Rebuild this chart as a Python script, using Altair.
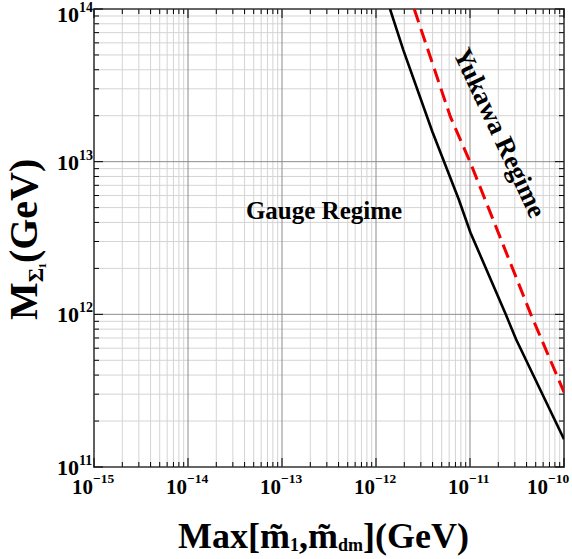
import altair as alt
import pandas as pd

W, H = 470, 458
FONT = "Liberation Serif"

# ---- data ----
x_black = [1.41e-12, 1.95e-12, 3.98e-12, 7.6e-12, 1.01e-11, 2.4e-11, 3.09e-11, 1.0e-10]
y_black = [1.0e14, 5.4e13, 1.57e13, 5.65e12, 3.44e12, 1.0e12, 6.87e11, 1.52e11]

x_red = [2.55e-12, 6.18e-12, 1.01e-11, 4.44e-11, 1.0e-10]
y_red = [1.0e14, 1.97e13, 9.84e12, 1.0e12, 3.09e11]

x_ticks = [1e-15, 1e-14, 1e-13, 1e-12, 1e-11, 1e-10]
x_exps = ["\u221215", "\u221214", "\u221213", "\u221212", "\u221211", "\u221210"]
y_ticks = [1e11, 1e12, 1e13, 1e14]
y_exps = ["11", "12", "13", "14"]

annot_text = ["Gauge Regime", "Yukawa Regime"]
annot_x = [2.8e-13, 2.04e-11]
annot_y = [4.75e12, 1.54e13]

# minor grid / tick positions (2..9 x each decade)
x_minor = [m * d for d in x_ticks[:-1] for m in range(2, 10)]
y_minor = [m * d for d in y_ticks[:-1] for m in range(2, 10)]

xs = alt.Scale(type="log", domain=[1e-15, 1e-10], nice=False)
ys = alt.Scale(type="log", domain=[1e11, 1e14], nice=False)

def X(f="v"):
    return alt.X(f"{f}:Q", scale=xs, axis=None)

def Y(f="v"):
    return alt.Y(f"{f}:Q", scale=ys, axis=None)

dxm = pd.DataFrame({"v": x_minor})
dym = pd.DataFrame({"v": y_minor})
dxM = pd.DataFrame({"v": x_ticks, "e": x_exps})
dyM = pd.DataFrame({"v": y_ticks, "e": y_exps})

layers = []
# grids
layers.append(alt.Chart(dxm).mark_rule(color="#d4d4d4", strokeWidth=1).encode(x=X()))
layers.append(alt.Chart(dym).mark_rule(color="#d4d4d4", strokeWidth=1).encode(y=Y()))
layers.append(alt.Chart(dxM).mark_rule(color="#8c8c8c", strokeWidth=1).encode(x=X()))
layers.append(alt.Chart(dyM).mark_rule(color="#8c8c8c", strokeWidth=1).encode(y=Y()))

# inward ticks
for df, ln in ((dxm, 5), (dxM, 9)):
    layers.append(alt.Chart(df).mark_rule(color="black", strokeWidth=1).encode(
        x=X(), y=alt.value(H), y2=alt.value(H - ln)))
    layers.append(alt.Chart(df).mark_rule(color="black", strokeWidth=1).encode(
        x=X(), y=alt.value(0), y2=alt.value(ln)))
for df, ln in ((dym, 5), (dyM, 9)):
    layers.append(alt.Chart(df).mark_rule(color="black", strokeWidth=1).encode(
        y=Y(), x=alt.value(0), x2=alt.value(ln)))
    layers.append(alt.Chart(df).mark_rule(color="black", strokeWidth=1).encode(
        y=Y(), x=alt.value(W), x2=alt.value(W - ln)))

# curves
dblack = pd.DataFrame({"x": x_black, "y": y_black})
dred = pd.DataFrame({"x": x_red, "y": y_red})
layers.append(alt.Chart(dblack).mark_line(color="black", strokeWidth=2.6, clip=True).encode(
    x=X("x"), y=Y("y")))
layers.append(alt.Chart(dred).mark_line(color="#f00000", strokeWidth=3, strokeDash=[14, 7], clip=True).encode(
    x=X("x"), y=Y("y")))

# annotations
dann = pd.DataFrame({"x": annot_x, "y": annot_y, "t": annot_text})
layers.append(alt.Chart(dann.iloc[[0]]).mark_text(
    font=FONT, fontWeight="bold", fontSize=25, align="center", baseline="middle", color="black"
).encode(x=X("x"), y=Y("y"), text="t:N"))
layers.append(alt.Chart(dann.iloc[[1]]).mark_text(
    font=FONT, fontWeight="bold", fontSize=26.5, align="center", baseline="middle", angle=65, color="black"
).encode(x=X("x"), y=Y("y"), text="t:N"))

# tick labels (10 + superscript exponent); the last x label and the top y label
# are pulled inward, as in the reference
def xlab(df, shift):
    return [
        alt.Chart(df).mark_text(font=FONT, fontWeight="bold", fontSize=21, align="right",
                                baseline="alphabetic", dx=-1 + shift
                                ).encode(x=X(), y=alt.value(H + 27), text=alt.value("10")),
        alt.Chart(df).mark_text(font=FONT, fontWeight="bold", fontSize=13.5, align="left",
                                baseline="alphabetic", dx=-1 + shift
                                ).encode(x=X(), y=alt.value(H + 16), text="e:N"),
    ]

def ylab(df, shift):
    return [
        alt.Chart(df).mark_text(font=FONT, fontWeight="bold", fontSize=22, align="right",
                                baseline="alphabetic", dy=8 + shift
                                ).encode(y=Y(), x=alt.value(-15), text=alt.value("10")),
        alt.Chart(df).mark_text(font=FONT, fontWeight="bold", fontSize=14, align="left",
                                baseline="alphabetic", dy=-2 + shift
                                ).encode(y=Y(), x=alt.value(-15), text="e:N"),
    ]

layers += xlab(dxM.iloc[:-1], 0) + xlab(dxM.iloc[-1:], -15)
layers += ylab(dyM.iloc[:-1], 0) + ylab(dyM.iloc[-1:], 5)

# axis titles built from pieces (main text + subscripts)
one = pd.DataFrame({"a": [0]})

def piece(txt, x, y, size, angle=0):
    kw = dict(font=FONT, fontWeight="bold", fontSize=size, align="left",
              baseline="alphabetic", color="black")
    if angle:
        kw["angle"] = angle
    return alt.Chart(one).mark_text(**kw).encode(
        x=alt.value(x), y=alt.value(y), text=alt.value(txt))

# x title: Max[m~_1, m~_dm](GeV)
BIG, SUB = 36, 18
xt = [("Max[m\u0303", BIG, 0, 3.110), ("1", SUB, 3, 0.5), (",m\u0303", BIG, 0, 1.083),
      ("dm", SUB, 3, 1.389), ("](GeV)", BIG, 0, 2.943)]
cx, base = 84, 539
for t, s, sh, em in xt:
    layers.append(piece(t, cx, base + sh, s))
    cx += em * s

# y title: M_{Sigma_1}(GeV), rotated
YB = 40
yt = [("M", YB, 0, 0.944), ("\u03a3", 22, 6, 0.62), ("1", 11, 9, 0.5), ("(GeV)", YB, 0, 2.61)]
cy, bx = 311, -57
for t, s, sh, em in yt:
    layers.append(piece(t, bx + sh, cy, s, angle=270))
    cy -= em * s

chart = alt.layer(*layers).properties(
    width=W, height=H,
    autosize=alt.AutoSizeParams(type="none"),
    padding={"left": 94, "top": 9, "right": 8, "bottom": 92},
    background="white",
).configure_view(stroke="black", strokeWidth=1.6)

chart.save("out.html", embed_options={"renderer": "svg", "actions": False})
